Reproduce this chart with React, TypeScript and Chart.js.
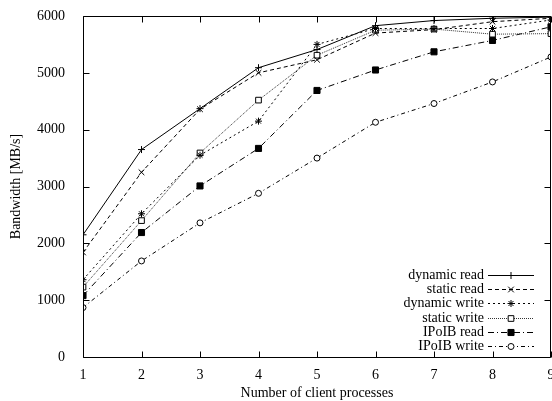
import React, { useEffect, useRef } from 'react';
import { Chart, registerables } from 'chart.js';
import { drawPoint } from 'chart.js/helpers';

Chart.register(...registerables);

// Number of client processes on the x axis
const processes = [1, 2, 3, 4, 5, 6, 7, 8, 9];

// Bandwidth in MB/s for each configuration
const dynamicRead = [2150, 3650, 4370, 5090, 5410, 5830, 5920, 5960, 5980];
const staticRead = [1840, 3250, 4360, 5000, 5230, 5700, 5760, 5900, 5960];
const dynamicWrite = [1360, 2520, 3550, 4150, 5500, 5780, 5780, 5780, 5930];
const staticWrite = [1230, 2400, 3590, 4520, 5310, 5750, 5770, 5680, 5690];
const ipoibRead = [1080, 2190, 3010, 3670, 4690, 5050, 5370, 5570, 5810];
const ipoibWrite = [870, 1690, 2360, 2880, 3500, 4130, 4460, 4840, 5280];

const seriesLabels = [
  'dynamic read',
  'static read',
  'dynamic write',
  'static write',
  'IPoIB read',
  'IPoIB write',
];
const seriesValues = [dynamicRead, staticRead, dynamicWrite, staticWrite, ipoibRead, ipoibWrite];

const yMin = 0;
const yMax = 6000;
const yStep = 1000;

const FONT_FAMILY = '"Liberation Serif", "Times New Roman", serif';

// gnuplot-like line and marker styles per series
const seriesStyles = [
  { dash: [], point: 'cross', radius: 3.5, fill: '#000', color: '#000' },
  { dash: [4, 3], point: 'crossRot', radius: 4, fill: '#000', color: '#000' },
  { dash: [2, 3], point: 'star', radius: 3.5, fill: '#000', color: '#000' },
  { dash: [1, 1], point: 'rect', radius: 4, fill: '#fff', color: '#333' },
  { dash: [6, 3, 1, 3], point: 'rect', radius: 4.3, fill: '#000', color: '#000' },
  { dash: [4, 3, 1, 3], point: 'circle', radius: 3, fill: '#fff', color: '#000' },
];

// Plot frame with inward tick marks on all four sides
const framePlugin = {
  id: 'frame',
  afterDatasetsDraw(chart: any) {
    const { ctx, chartArea: a, scales } = chart;
    const px = (v: number) => Math.round(v) + 0.5;
    const L = px(a.left);
    const R = px(a.right) - 1;
    const T = px(a.top);
    const B = px(a.bottom);
    const len = 6;
    ctx.save();
    ctx.strokeStyle = '#000';
    ctx.lineWidth = 1;
    ctx.setLineDash([]);
    ctx.beginPath();
    ctx.rect(L, T, R - L, B - T);
    for (const t of scales.x.ticks) {
      const x = px(scales.x.getPixelForValue(t.value));
      ctx.moveTo(x, B);
      ctx.lineTo(x, B - len);
      ctx.moveTo(x, T);
      ctx.lineTo(x, T + len);
    }
    for (const t of scales.y.ticks) {
      const y = px(scales.y.getPixelForValue(t.value));
      ctx.moveTo(L, y);
      ctx.lineTo(L + len, y);
      ctx.moveTo(R, y);
      ctx.lineTo(R - len, y);
    }
    ctx.stroke();
    ctx.restore();
  },
};

// Key in the lower right: label, then a line sample with its marker
const keyPlugin = {
  id: 'key',
  afterDraw(chart: any) {
    const { ctx, chartArea: a } = chart;
    const datasets = chart.data.datasets;
    const n = datasets.length;
    const textRight = a.right - 67;
    const lineStart = a.right - 63;
    const lineEnd = a.right - 17;
    const markX = (lineStart + lineEnd) / 2;
    const rowStep = 14.2;
    ctx.save();
    ctx.font = `14px ${FONT_FAMILY}`;
    ctx.textAlign = 'right';
    ctx.textBaseline = 'middle';
    datasets.forEach((ds: any, i: number) => {
      const y = Math.round(a.bottom - 11 - (n - 1 - i) * rowStep) + 0.5;
      ctx.fillStyle = '#000';
      ctx.fillText(ds.label, textRight, y);
      ctx.strokeStyle = ds.borderColor;
      ctx.lineWidth = 1;
      ctx.setLineDash(ds.borderDash);
      ctx.beginPath();
      ctx.moveTo(lineStart, y);
      ctx.lineTo(lineEnd, y);
      ctx.stroke();
      ctx.setLineDash([]);
      ctx.strokeStyle = '#000';
      ctx.fillStyle = ds.pointBackgroundColor;
      drawPoint(ctx, { pointStyle: ds.pointStyle, radius: ds.pointRadius, rotation: 0, borderWidth: 1 }, markX, y);
    });
    ctx.restore();
  },
};

export default function App() {
  const canvasRef = useRef<HTMLCanvasElement | null>(null);

  useEffect(() => {
    const canvas = canvasRef.current;
    if (!canvas) return;

    const datasets = seriesValues.map((values, i) => {
      const s = seriesStyles[i];
      return {
        label: seriesLabels[i],
        data: values.map((v, j) => ({ x: processes[j], y: v })),
        borderColor: s.color,
        borderWidth: 1,
        borderDash: s.dash,
        pointStyle: s.point,
        pointRadius: s.radius,
        pointBorderColor: '#000',
        pointBackgroundColor: s.fill,
        pointBorderWidth: 1,
        tension: 0,
        fill: false,
      };
    });

    const chart = new Chart(canvas, {
      type: 'line',
      data: { datasets },
      plugins: [framePlugin, keyPlugin],
      options: {
        animation: false,
        responsive: false,
        devicePixelRatio: 1,
        layout: { autoPadding: false, padding: { left: 0, right: 1, top: 16, bottom: 0 } },
        plugins: {
          legend: { display: false },
          tooltip: { enabled: false },
        },
        scales: {
          x: {
            type: 'linear',
            min: processes[0],
            max: processes[processes.length - 1],
            grid: { display: false },
            border: { display: false },
            ticks: {
              stepSize: 1,
              padding: 2,
              color: '#000',
              font: { family: FONT_FAMILY, size: 14 },
              callback: (v: any) => String(v),
            },
            title: {
              display: true,
              text: 'Number of client processes',
              color: '#000',
              font: { family: FONT_FAMILY, size: 14 },
              padding: { top: 0, bottom: -1 },
            },
            afterFit: (scale: any) => {
              scale.height = 44;
              scale.paddingLeft = 0;
              scale.paddingRight = 0;
            },
          },
          y: {
            type: 'linear',
            min: yMin,
            max: yMax,
            grid: { display: false },
            border: { display: false },
            ticks: {
              stepSize: yStep,
              padding: 10,
              color: '#000',
              font: { family: FONT_FAMILY, size: 14 },
              callback: (v: any) => String(v),
            },
            title: {
              display: true,
              text: 'Bandwidth [MB/s]',
              color: '#000',
              font: { family: FONT_FAMILY, size: 14 },
              padding: { top: 8, bottom: 0 },
            },
            afterFit: (scale: any) => {
              scale.width = 83;
              scale.paddingTop = 0;
              scale.paddingBottom = 0;
            },
          },
        },
      },
    });

    return () => chart.destroy();
  }, []);

  return (
    <div style={{ position: 'fixed', left: 0, top: 0, width: 552, height: 401, background: '#fff' }}>
      <canvas ref={canvasRef} width={552} height={401} />
    </div>
  );
}
